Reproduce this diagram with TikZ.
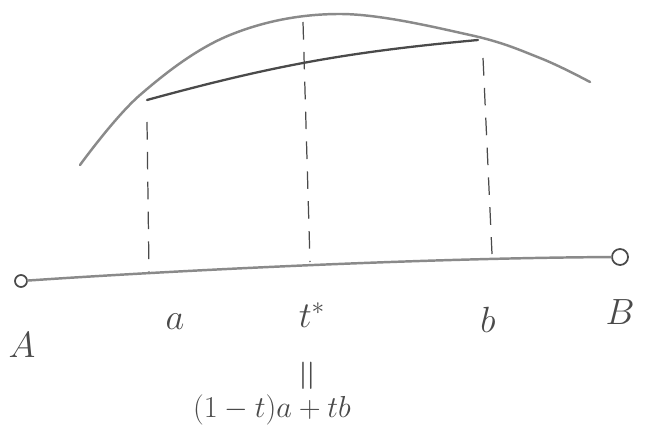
\documentclass[tikz,border=0pt]{standalone}
\usepackage{amsmath}
\usepackage{amssymb}
\usepackage{tikz}
\usetikzlibrary{positioning}

\definecolor{pencil}{HTML}{8A8A8A}
\definecolor{lead}{HTML}{4A4A4A}

\tikzset{
	pencil line/.style={pencil, line width=1.4pt, line cap=round},
	drop line/.style={lead, line width=0.7pt, dash pattern=on 10pt off 7pt},
	end point/.style={circle, draw=lead, line width=1pt, inner sep=0pt},
	sketch label/.style={text=lead, font=\huge}
}

\begin{document}
\begin{tikzpicture}
			\useasboundingbox (0,0) rectangle (13.06,8.86);
			
			% Draw the segment from A to B
			\node[end point, minimum size=0.24cm] (endA) at (0.42,3.24) {};
			\node[end point, minimum size=0.32cm] (endB) at (12.40,3.72) {};
			\draw[pencil line] (endA) .. controls (3.5,3.45) and (8.5,3.70) .. (endB);
			
			% Draw the curve (graph of f)
			\draw[pencil line] plot[smooth, tension=0.6] coordinates {(1.6,5.56) (2.8,6.96) (4.6,8.16) (6.8,8.58) (9.4,8.16) (10.8,7.7) (11.8,7.22)};
			
			% Draw the chord
			\coordinate (chordL) at (2.94,6.86);
			\coordinate (chordR) at (9.56,8.06);
			\draw[lead, line width=1.3pt, line cap=round] (chordL) to[bend left=5] (chordR);
			
			% Dashed drop lines
			\coordinate (topa) at (2.94,6.42);
			\coordinate (bota) at (2.98,3.42);
			\coordinate (topt) at (6.06,8.42);
			\coordinate (bott) at (6.20,3.62);
			\coordinate (topb) at (9.66,7.70);
			\coordinate (botb) at (9.84,3.78);
			\draw[drop line] (topa) -- (bota);
			\draw[drop line] (topt) -- (bott);
			\draw[drop line] (topb) -- (botb);
			
			% Label points
			\node[sketch label] (labA) at (0.44,1.96) {$A$};
			\node[sketch label] (laba) at (3.50,2.42) {$a$};
			\node[sketch label] (labt) at (6.24,2.56) {$t^*$};
			\node[sketch label] (labb) at (9.76,2.46) {$b$};
			\node[sketch label] (labB) at (12.40,2.62) {$B$};
			
			% t* equals the convex combination
			\node[sketch label, font=\Huge, rotate=90] (eq) at (6.20,1.34) {$=$};
			\node[sketch label, font=\LARGE] (comb) at (5.44,0.66) {$(1-t)a+tb$};
			
		\end{tikzpicture}
\end{document}
